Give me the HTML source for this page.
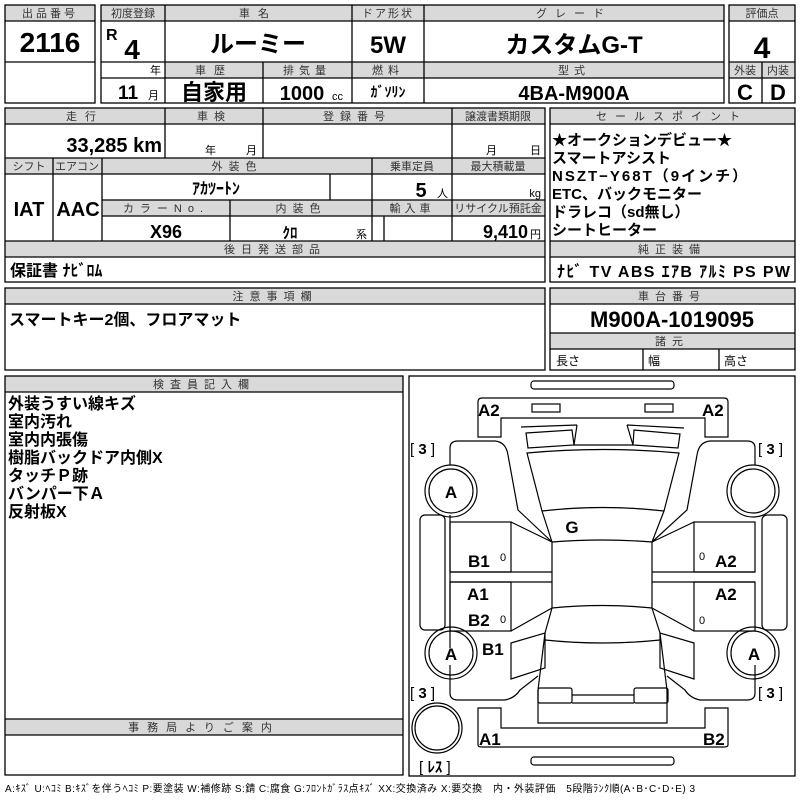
<!DOCTYPE html>
<html><head><meta charset="utf-8"><style>
html,body{margin:0;padding:0;background:#fff;width:800px;height:800px;overflow:hidden}
svg{display:block}
text{font-family:"Liberation Sans","Noto Sans CJK JP",sans-serif;fill:#000}
.h{font-size:11px;text-anchor:middle;fill:#333;letter-spacing:1px}
.b{font-weight:bold}
.m{text-anchor:middle}
.e{text-anchor:end}
.g{fill:#d9d9d9}
.ln{stroke:#000;stroke-width:1.3;fill:none}
.c path,.c rect,.c circle,.c line,.c polyline,.c polygon{stroke:#000;stroke-width:1.2;fill:none}
</style></head><body>
<svg width="800" height="800" viewBox="0 0 800 800">
<g class="g">
<rect x="5" y="5" width="90" height="16"/>
<rect x="101" y="5" width="623" height="16"/>
<rect x="165" y="62" width="559" height="16"/>
<rect x="729" y="5" width="66" height="16"/>
<rect x="729" y="62" width="66" height="16"/>
<rect x="5" y="108" width="540" height="16"/>
<rect x="5" y="158" width="540" height="16"/>
<rect x="102" y="200" width="443" height="16"/>
<rect x="5" y="241" width="540" height="16"/>
<rect x="550" y="108" width="245" height="16"/>
<rect x="550" y="241" width="245" height="16"/>
<rect x="5" y="288" width="540" height="16"/>
<rect x="550" y="288" width="245" height="16"/>
<rect x="550" y="333" width="245" height="16"/>
<rect x="5" y="376" width="398" height="16"/>
<rect x="5" y="719" width="398" height="16"/>
</g>
<g class="ln">
<rect x="5" y="5" width="90" height="98"/>
<line x1="5" y1="21" x2="95" y2="21"/><line x1="5" y1="62" x2="95" y2="62"/>
<rect x="101" y="5" width="623" height="98"/>
<line x1="101" y1="21" x2="724" y2="21"/><line x1="101" y1="62" x2="724" y2="62"/><line x1="101" y1="78" x2="724" y2="78"/>
<line x1="165" y1="5" x2="165" y2="103"/><line x1="352" y1="5" x2="352" y2="103"/><line x1="424" y1="5" x2="424" y2="103"/><line x1="263" y1="62" x2="263" y2="103"/>
<rect x="729" y="5" width="66" height="98"/>
<line x1="729" y1="21" x2="795" y2="21"/><line x1="729" y1="62" x2="795" y2="62"/><line x1="729" y1="78" x2="795" y2="78"/><line x1="762" y1="62" x2="762" y2="103"/>
<rect x="5" y="108" width="540" height="174"/>
<line x1="5" y1="124" x2="545" y2="124"/><line x1="5" y1="158" x2="545" y2="158"/><line x1="5" y1="174" x2="545" y2="174"/>
<line x1="102" y1="200" x2="545" y2="200"/><line x1="102" y1="216" x2="545" y2="216"/>
<line x1="5" y1="241" x2="545" y2="241"/><line x1="5" y1="257" x2="545" y2="257"/>
<line x1="165" y1="108" x2="165" y2="158"/><line x1="263" y1="108" x2="263" y2="158"/><line x1="452" y1="108" x2="452" y2="241"/>
<line x1="53" y1="158" x2="53" y2="241"/><line x1="102" y1="158" x2="102" y2="241"/><line x1="372" y1="158" x2="372" y2="241"/>
<line x1="330" y1="174" x2="330" y2="200"/><line x1="230" y1="200" x2="230" y2="241"/><line x1="384" y1="216" x2="384" y2="241"/>
<rect x="550" y="108" width="245" height="174"/>
<line x1="550" y1="124" x2="795" y2="124"/><line x1="550" y1="241" x2="795" y2="241"/><line x1="550" y1="257" x2="795" y2="257"/>
<rect x="5" y="288" width="540" height="82"/><line x1="5" y1="304" x2="545" y2="304"/>
<rect x="550" y="288" width="245" height="82"/>
<line x1="550" y1="304" x2="795" y2="304"/><line x1="550" y1="333" x2="795" y2="333"/><line x1="550" y1="349" x2="795" y2="349"/>
<line x1="643" y1="349" x2="643" y2="370"/><line x1="719" y1="349" x2="719" y2="370"/>
<rect x="5" y="376" width="398" height="399"/>
<line x1="5" y1="392" x2="403" y2="392"/><line x1="5" y1="719" x2="403" y2="719"/><line x1="5" y1="735" x2="403" y2="735"/>
<rect x="409" y="376" width="386" height="400"/>
</g>
<text class="h" x="50" y="17" style="letter-spacing:3px">出品番号</text>
<text class="b m" x="50" y="52" font-size="28">2116</text>
<text class="h" x="133" y="17" style="letter-spacing:0">初度登録</text>
<text class="b" x="106" y="40" font-size="16">R</text>
<text class="b m" x="132" y="59" font-size="28">4</text>
<text x="150" y="74" font-size="11">年</text>
<text class="b m" x="128" y="99" font-size="19">11</text>
<text x="148" y="99" font-size="11">月</text>
<text class="h" x="258" y="17" style="letter-spacing:8px">車名</text>
<text class="b m" x="258" y="52" font-size="24">ルーミー</text>
<text class="h" x="388" y="17" style="letter-spacing:2px">ドア形状</text>
<text class="b m" x="388" y="53" font-size="24">5W</text>
<text class="h" x="574" y="17" style="letter-spacing:8px">グレード</text>
<text class="b m" x="574" y="53" font-size="24">カスタムG-T</text>
<text class="h" x="762" y="17" style="letter-spacing:0">評価点</text>
<text class="b m" x="762" y="58" font-size="30">4</text>
<text class="h" x="214" y="74" style="letter-spacing:8px">車歴</text>
<text class="h" x="307" y="74" style="letter-spacing:5px">排気量</text>
<text class="h" x="388" y="74" style="letter-spacing:5px">燃料</text>
<text class="h" x="574" y="74" style="letter-spacing:5px">型式</text>
<text class="h" x="745" y="74" style="letter-spacing:0">外装</text>
<text class="h" x="778" y="74" style="letter-spacing:0">内装</text>
<text class="b m" x="214" y="100" font-size="22">自家用</text>
<text class="b m" x="302" y="100" font-size="20">1000</text>
<text x="332" y="100" font-size="11">cc</text>
<text class="b m" x="388" y="97" font-size="14">ｶﾞｿﾘﾝ</text>
<text class="b m" x="574" y="100" font-size="20">4BA-M900A</text>
<text class="b m" x="745" y="100" font-size="22">C</text>
<text class="b m" x="778" y="100" font-size="22">D</text>
<text class="h" x="85" y="120" style="letter-spacing:8px">走行</text>
<text class="h" x="214" y="120" style="letter-spacing:6px">車検</text>
<text class="h" x="357" y="120" style="letter-spacing:6px">登録番号</text>
<text class="h" x="498" y="120" style="letter-spacing:0">譲渡書類期限</text>
<text class="b e" x="162" y="152" font-size="20">33,285 km</text>
<text x="205" y="154" font-size="11">年</text><text x="246" y="154" font-size="11">月</text>
<text x="486" y="154" font-size="11">月</text><text x="530" y="154" font-size="11">日</text>
<text class="h" x="29" y="170" style="letter-spacing:0">シフト</text>
<text class="h" x="77" y="170" style="letter-spacing:0">エアコン</text>
<text class="h" x="237" y="170" style="letter-spacing:6px">外装色</text>
<text class="h" x="412" y="170" style="letter-spacing:0">乗車定員</text>
<text class="h" x="498" y="170" style="letter-spacing:0">最大積載量</text>
<text class="b m" x="29" y="216" font-size="20">IAT</text>
<text class="b m" x="78" y="216" font-size="20">AAC</text>
<text class="b m" x="216" y="194" font-size="16">ｱｶﾂｰﾄﾝ</text>
<text class="b m" x="421" y="197" font-size="20">5</text>
<text x="437" y="197" font-size="11">人</text>
<text class="e" x="541" y="197" font-size="11">kg</text>
<text class="h" x="166" y="212" style="letter-spacing:6px">カラーNo.</text>
<text class="h" x="301" y="212" style="letter-spacing:6px">内装色</text>
<text class="h" x="412" y="212" style="letter-spacing:4px">輸入車</text>
<text class="h" x="498" y="212" style="letter-spacing:0">リサイクル預託金</text>
<text class="b m" x="166" y="238" font-size="18">X96</text>
<text class="b m" x="290" y="238" font-size="15">ｸﾛ</text>
<text x="356" y="238" font-size="11">系</text>
<text class="b e" x="528" y="238" font-size="18">9,410</text>
<text x="530" y="238" font-size="11">円</text>
<text class="h" x="275" y="253" style="letter-spacing:6px">後日発送部品</text>
<text class="b" x="10" y="276" font-size="16">保証書 ﾅﾋﾞﾛﾑ</text>
<text class="h" x="672" y="120" style="letter-spacing:8px">セールスポイント</text>
<g font-size="15" class="b">
<text x="552" y="145">★オークションデビュー★</text>
<text x="552" y="163">スマートアシスト</text>
<text x="552" y="181" style="letter-spacing:2px">NSZT−Y68T（9インチ）</text>
<text x="552" y="199">ETC、バックモニター</text>
<text x="552" y="217">ドラレコ（sd無し）</text>
<text x="552" y="235">シートヒーター</text>
</g>
<text class="h" x="672" y="253" style="letter-spacing:6px">純正装備</text>
<text class="b" x="557" y="277" font-size="16" textLength="233">ﾅﾋﾞ TV ABS ｴｱB ｱﾙﾐ PS PW</text>
<text class="h" x="275" y="300" style="letter-spacing:6px">注意事項欄</text>
<text class="b" x="9" y="325" font-size="16">スマートキー2個、フロアマット</text>
<text class="h" x="672" y="300" style="letter-spacing:6px">車台番号</text>
<text class="b m" x="672" y="327" font-size="22">M900A-1019095</text>
<text class="h" x="672" y="345" style="letter-spacing:6px">諸元</text>
<text x="556" y="365" font-size="12">長さ</text>
<text x="648" y="365" font-size="12">幅</text>
<text x="724" y="365" font-size="12">高さ</text>
<text class="h" x="204" y="388" style="letter-spacing:6px">検査員記入欄</text>
<g font-size="16" class="b">
<text x="8" y="409">外装うすい線キズ</text>
<text x="8" y="427">室内汚れ</text>
<text x="8" y="445">室内内張傷</text>
<text x="8" y="463">樹脂バックドア内側X</text>
<text x="8" y="481">タッチＰ跡</text>
<text x="8" y="499">バンパー下Ａ</text>
<text x="8" y="517">反射板X</text>
</g>
<text class="h" x="204" y="731" style="letter-spacing:8px">事務局よりご案内</text>
<text x="5" y="792" font-size="10" fill="#333" textLength="690">A:ｷｽﾞ U:ﾍｺﾐ B:ｷｽﾞを伴うﾍｺﾐ P:要塗装 W:補修跡 S:錆 C:腐食 G:ﾌﾛﾝﾄｶﾞﾗｽ点ｷｽﾞ XX:交換済み X:要交換　内・外装評価　5段階ﾗﾝｸ順(A･B･C･D･E) 3</text>
<g class="c">
<rect x="531" y="381" width="143" height="8" rx="3"/>
<rect x="531" y="757" width="143" height="8" rx="3"/>
<path d="M478,437 L478,402 Q478,398 482,398 L724,398 Q728,398 728,402 L728,437 L705,437 L705,418 L501,418 L501,437 Z"/>
<rect x="532" y="404" width="28" height="8"/><rect x="645" y="404" width="28" height="8"/>
<path d="M478,708 L478,745 Q478,747 482,747 L724,747 Q728,747 728,745 L728,708 L705,708 L705,728 L501,728 L501,708 Z"/>
<polyline points="521,427 577,425"/><polygon points="526,433 572,430 574,445 528,448"/>
<polyline points="627,425 684,428"/><polygon points="634,430 680,434 678,448 633,445"/>
<polyline points="577,425 574,445 633,445 627,425"/>
<path d="M527,453 Q603,446 679,453 L664,511 Q603,504 542,511 Z"/>
<path d="M542,511 L552,542 Q602,538 652,542 L664,511"/>
<path d="M552,542 L552,608 Q602,603 652,608 L652,542"/>
<path d="M450,465 L450,448 Q450,441 458,441 L495,441 Q506,442 508,455 L518,510 L552,542"/>
<path d="M450,515 L450,648 "/>
<rect x="420" y="515" width="25" height="115" rx="5"/>
<rect x="762" y="515" width="25" height="115" rx="5"/>
<rect x="450" y="522" width="61" height="50"/><rect x="450" y="582" width="61" height="49"/>
<line x1="450" y1="572" x2="552" y2="572"/><line x1="450" y1="582" x2="552" y2="582"/>
<polyline points="511,522 552,542"/><polyline points="511,631 552,608"/>
<path d="M450,665 L450,693 Q450,700 458,700 L505,700 Q515,698 520,690 L538,676"/>
<polygon points="511,643 545,633 545,668 511,679"/>
<path d="M755,465 L755,448 Q755,441 747,441 L710,441 Q699,442 697,455 L687,510 L652,542"/>
<rect x="694" y="522" width="61" height="50"/><rect x="694" y="582" width="61" height="49"/>
<line x1="652" y1="572" x2="755" y2="572"/><line x1="652" y1="582" x2="755" y2="582"/>
<polyline points="694,522 652,542"/><polyline points="694,631 652,608"/>
<path d="M755,665 L755,693 Q755,700 747,700 L700,700 Q690,698 685,690 L667,676"/>
<polygon points="694,643 660,633 660,668 694,679"/>
<path d="M552,608 L545,633 L538,690 L538,723 L667,723 L667,690 L660,633 L652,608"/>
<path d="M545,640 Q602,646 660,640"/>
<rect x="538" y="688" width="34" height="15" rx="2"/><rect x="634" y="688" width="34" height="15" rx="2"/>
<line x1="572" y1="695" x2="634" y2="695"/><line x1="572" y1="703" x2="634" y2="703"/>
<circle cx="451" cy="491" r="26"/><circle cx="451" cy="491" r="22"/>
<circle cx="451" cy="653" r="26"/><circle cx="451" cy="653" r="22"/>
<circle cx="753" cy="491" r="26"/><circle cx="753" cy="491" r="22"/>
<circle cx="753" cy="653" r="26"/><circle cx="753" cy="653" r="22"/>
<circle cx="437" cy="728" r="25"/><circle cx="437" cy="728" r="22"/>
</g>
<g class="b" font-size="17">
<text x="478" y="416">A2</text><text x="702" y="416">A2</text>
<text x="451" y="498" text-anchor="middle">A</text>
<text x="451" y="660" text-anchor="middle">A</text>
<text x="754" y="660" text-anchor="middle">A</text>
<text x="572" y="533" text-anchor="middle">G</text>
<text x="468" y="567">B1</text><text x="467" y="600">A1</text><text x="468" y="626">B2</text>
<text x="482" y="655">B1</text>
<text x="715" y="567">A2</text><text x="715" y="600">A2</text>
<text x="479" y="745">A1</text><text x="703" y="745">B2</text>
</g>
<g font-size="15">
<text x="410" y="454">[ <tspan font-weight="bold">3</tspan> ]</text>
<text x="758" y="454">[ <tspan font-weight="bold">3</tspan> ]</text>
<text x="410" y="698">[ <tspan font-weight="bold">3</tspan> ]</text>
<text x="758" y="698">[ <tspan font-weight="bold">3</tspan> ]</text>
<text x="419" y="772">[ <tspan font-weight="bold">ﾚｽ</tspan> ]</text>
</g>
<g font-size="11">
<text x="500" y="561">0</text><text x="500" y="623">0</text>
<text x="699" y="560">0</text><text x="699" y="624">0</text>
</g>
</svg>
</body></html>
